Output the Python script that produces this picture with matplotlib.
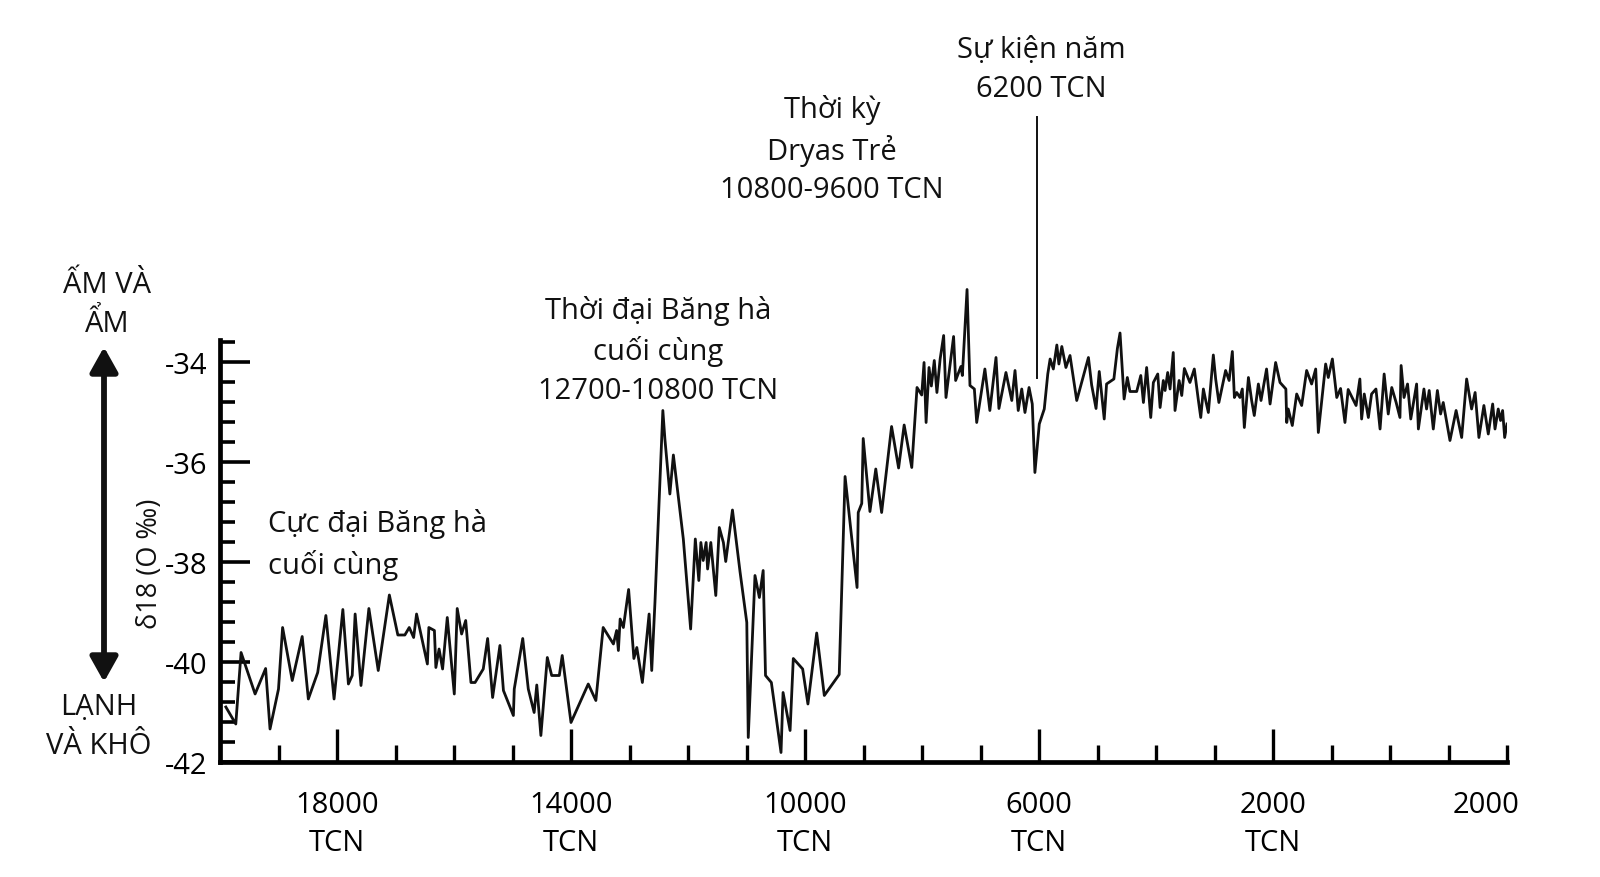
import matplotlib
matplotlib.use("Agg")
import matplotlib.pyplot as plt
from matplotlib.patches import FancyArrowPatch
from matplotlib.transforms import ScaledTranslation

plt.rcParams['font.family'] = ['Open Sans', 'DejaVu Sans']

# năm (âm = TCN) và giá trị δ18O
years = [
    -19900, -19730, -19640, -19400, -19220, -19145, -19000, -18930, -18765, -18595,
    -18490, -18330, -18190, -18050, -17900, -17805, -17740, -17690, -17590, -17455,
    -17295, -17105, -16960, -16840, -16765, -16690, -16640, -16455, -16430, -16335,
    -16310, -16255, -16195, -16115, -15995, -15945, -15870, -15800, -15710, -15640,
    -15500, -15425, -15340, -15215, -15155, -14985, -14970, -14825, -14730, -14630,
    -14585, -14515, -14405, -14330, -14200, -14150, -14000, -13705, -13575, -13450,
    -13275, -13220, -13190, -13160, -13105, -13015, -12925, -12875, -12780, -12665,
    -12620, -12565, -12430, -12395, -12310, -12250, -12080, -11955, -11875, -11815,
    -11780, -11740, -11690, -11665, -11610, -11525, -11465, -11395, -11355, -11240,
    -11110, -10995, -10970, -10855, -10780, -10715, -10675, -10575, -10410, -10375,
    -10255, -10200, -10040, -9950, -9800, -9670, -9415, -9315, -9110, -9090,
    -9030, -9005, -8890, -8790, -8690, -8520, -8400, -8305, -8175, -8085,
    -8005, -7965, -7930, -7880, -7840, -7790, -7745, -7690, -7630, -7590,
    -7460, -7425, -7335, -7310, -7230, -7180, -7105, -7065, -6925, -6840,
    -6735, -6685, -6565, -6465, -6410, -6355, -6295, -6240, -6170, -6115,
    -6070, -5995, -5910, -5850, -5810, -5755, -5695, -5660, -5610, -5540,
    -5470, -5355, -5155, -5100, -5025, -4970, -4885, -4845, -4720, -4660,
    -4615, -4545, -4490, -4445, -4330, -4260, -4215, -4160, -4090, -4045,
    -3970, -3930, -3875, -3845, -3800, -3760, -3705, -3675, -3605, -3560,
    -3515, -3420, -3345, -3275, -3235, -3190, -3150, -3105, -3020, -2980,
    -2925, -2810, -2750, -2695, -2660, -2620, -2565, -2525, -2490, -2420,
    -2365, -2320, -2250, -2205, -2110, -2050, -1955, -1880, -1780, -1765,
    -1740, -1670, -1595, -1510, -1425, -1340, -1270, -1225, -1100, -1055,
    -985, -910, -845, -770, -715, -580, -515, -485, -440, -370,
    -315, -240, -170, -100, -30, 30, 105, 170, 190, 240,
    300, 355, 455, 485, 580, 625, 670, 740, 810, 865,
    910, 1025, 1130, 1225, 1310, 1395, 1455, 1520, 1605, 1680,
    1755, 1795, 1850, 1890, 1925, 1960, 2000,
]
d18o = [
    -40.90, -41.24, -39.81, -40.64, -40.13, -41.34, -40.54, -39.31, -40.37, -39.49,
    -40.74, -40.21, -39.07, -40.74, -38.95, -40.44, -40.27, -39.04, -40.47, -38.93,
    -40.17, -38.66, -39.46, -39.46, -39.31, -39.51, -39.04, -40.04, -39.31, -39.37,
    -40.11, -39.74, -40.14, -39.11, -40.64, -38.93, -39.44, -39.17, -40.41, -40.41,
    -40.14, -39.53, -40.71, -39.67, -40.57, -41.07, -40.54, -39.53, -40.54, -41.01,
    -40.46, -41.47, -39.91, -40.27, -40.27, -39.87, -41.21, -40.44, -40.77, -39.31,
    -39.64, -39.37, -39.77, -39.14, -39.31, -38.55, -39.93, -39.71, -40.41, -39.04,
    -40.17, -38.81, -34.97, -35.54, -36.64, -35.86, -37.54, -39.34, -37.54, -38.37,
    -37.61, -37.97, -37.61, -38.14, -37.61, -38.67, -37.31, -37.61, -37.99, -36.96,
    -38.20, -39.21, -41.51, -38.27, -38.71, -38.17, -40.27, -40.41, -41.81, -40.61,
    -41.37, -39.93, -40.14, -40.84, -39.42, -40.67, -40.25, -36.29, -38.51, -37.01,
    -36.83, -35.53, -36.99, -36.14, -37.01, -35.29, -36.12, -35.26, -36.11, -34.51,
    -34.66, -34.01, -35.21, -34.11, -34.48, -33.97, -34.61, -33.94, -33.47, -34.71,
    -33.49, -34.37, -34.09, -34.27, -32.55, -34.47, -34.54, -35.21, -34.14, -34.97,
    -33.91, -34.93, -34.21, -34.77, -34.17, -34.97, -34.54, -35.01, -34.51, -34.84,
    -36.21, -35.24, -34.94, -34.24, -33.94, -34.14, -33.66, -34.04, -33.69, -34.11,
    -33.87, -34.77, -33.91, -34.46, -34.93, -34.19, -35.14, -34.44, -34.34, -33.73,
    -33.42, -34.74, -34.31, -34.59, -34.59, -34.27, -34.81, -34.11, -35.11, -34.41,
    -34.24, -34.91, -34.37, -34.57, -34.21, -34.54, -33.81, -34.97, -34.37, -34.67,
    -34.13, -34.41, -34.14, -34.77, -35.11, -34.54, -34.77, -35.01, -33.86, -34.34,
    -34.81, -34.17, -34.37, -33.79, -34.71, -34.61, -34.71, -34.54, -35.31, -34.31,
    -34.77, -35.07, -34.44, -34.77, -34.14, -34.84, -34.01, -34.41, -34.54, -35.21,
    -34.94, -35.27, -34.64, -34.87, -34.17, -34.44, -34.14, -35.41, -34.04, -34.31,
    -33.94, -34.71, -34.53, -35.21, -34.55, -34.87, -34.34, -35.14, -34.64, -35.11,
    -34.64, -34.54, -35.34, -34.24, -35.04, -34.51, -34.81, -35.11, -34.07, -34.71,
    -34.44, -35.14, -34.44, -35.34, -34.54, -34.94, -34.57, -35.34, -34.57, -35.04,
    -34.81, -35.57, -34.97, -35.51, -34.34, -34.94, -34.61, -35.51, -34.87, -35.44,
    -34.84, -35.34, -34.94, -35.17, -34.97, -35.51, -35.24,
]

x_major = [-18000, -14000, -10000, -6000, -2000]
x_major_labels = ['18000\nTCN', '14000\nTCN', '10000\nTCN', '6000\nTCN', '2000\nTCN']
y_major = [-42, -40, -38, -36, -34]
y_major_labels = ['-42', '-40', '-38', '-36', '-34']

event_year = -6030
event_top = -29.1
event_bottom = -34.31

FS = 21
LS = 1.42

fig = plt.figure(figsize=(16, 8.78), dpi=100)
ax = fig.add_axes([220 / 1600, 1 - 763 / 878, 1287 / 1600, 500 / 878])

ax.plot(years, d18o, color='#111111', lw=2.0)
ax.plot([event_year, event_year], [event_bottom, event_top], color='#111111',
        lw=1.4, clip_on=False)

ax.set_xlim(-20000, 2000)
ax.set_ylim(-42, -32)
ax.spines['top'].set_visible(False)
ax.spines['right'].set_visible(False)
ax.spines['left'].set_bounds(-42, -33.55)
for s in ('left', 'bottom'):
    ax.spines[s].set_linewidth(3.4)
    ax.spines[s].set_capstyle('projecting')

# trục y
ax.set_yticks(y_major, labels=y_major_labels)
ax.set_yticks([round(-42 + 0.4 * k, 1) for k in range(1, 22) if k % 5], minor=True)
ax.tick_params(axis='y', which='major', direction='in', length=21.6, width=2.6,
               pad=9, labelsize=FS)
ax.tick_params(axis='y', which='minor', direction='in', length=10.8, width=2.6)

# trục x
x_minor = [y for y in range(-19000, 2001, 1000) if y not in x_major]
ax.set_xticks(x_major, labels=x_major_labels, linespacing=LS)
ax.set_xticks(x_minor, labels=['2000' if y == 2000 else '' for y in x_minor],
              minor=True)
ax.tick_params(axis='x', which='major', direction='in', length=24, width=2.4,
               pad=20, labelsize=FS)
ax.tick_params(axis='x', which='minor', direction='in', length=12, width=2.4,
               pad=20, labelsize=FS)
last = ax.xaxis.get_minor_ticks()[-1].label1
last.set_horizontalalignment('right')
last.set_transform(last.get_transform() + ScaledTranslation(12 / 100, 0, fig.dpi_scale_trans))

# chú thích
kw = dict(fontsize=FS, linespacing=LS, color='#111111')
fig.text(268 / 1600, 1 - 545 / 878, 'Cực đại Băng hà\ncuối cùng',
         ha='left', va='center', **kw)
fig.text(658 / 1600, 1 - 351 / 878, 'Thời đại Băng hà\ncuối cùng\n12700-10800 TCN',
         ha='center', va='center', multialignment='center', **kw)
fig.text(832 / 1600, 1 - 150 / 878, 'Thời kỳ\nDryas Trẻ\n10800-9600 TCN',
         ha='center', va='center', multialignment='center', **kw)
fig.text(1041 / 1600, 1 - 70 / 878, 'Sự kiện năm\n6200 TCN',
         ha='center', va='center', multialignment='center', **kw)

fig.text(107 / 1600, 1 - 305 / 878, 'ẤM VÀ\nẨM',
         ha='center', va='center', multialignment='center', **kw)
fig.text(99 / 1600, 1 - 727 / 878, 'LẠNH\nVÀ KHÔ',
         ha='center', va='center', multialignment='center', **kw)
fig.text(150 / 1600, 1 - 564 / 878, 'δ18 (O ‰)', rotation=90,
         ha='center', va='center', fontsize=19.5, color='#111111')

arrow = FancyArrowPatch((104 / 1600, 1 - 683 / 878), (104 / 1600, 1 - 348 / 878),
                        transform=fig.transFigure,
                        arrowstyle='<|-|>,head_length=0.75,head_width=0.42',
                        mutation_scale=20, lw=4.2, color='#111111',
                        shrinkA=0, shrinkB=0)
fig.add_artist(arrow)

fig.savefig('out.png', dpi=100)
